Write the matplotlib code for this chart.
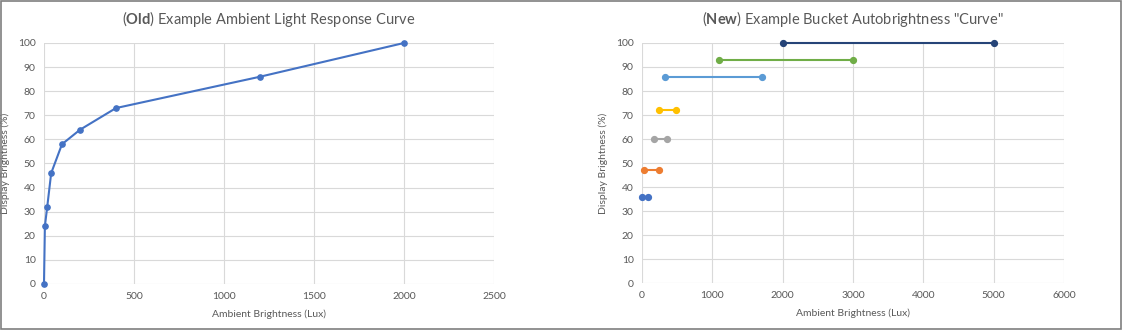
import numpy as np
import matplotlib
matplotlib.use("Agg")
import matplotlib.pyplot as plt
from matplotlib.patches import Rectangle

# old curve: ambient lux -> display brightness %
old_lux = [0, 5, 18, 40, 100, 200, 400, 1200, 2000]
old_pct = [0, 24, 32, 46, 58, 64, 73, 86, 100]

# new buckets: (lux start, lux end, brightness %)
bucket_start = [0, 30, 170, 240, 330, 1100, 2000]
bucket_end = [80, 240, 350, 490, 1700, 3000, 5000]
bucket_pct = [36, 47, 60, 72, 86, 93, 100]
bucket_colors = ["#4472C4", "#ED7D31", "#A5A5A5", "#FFC000", "#5B9BD5", "#70AD47", "#264478"]

plt.rcParams['font.family'] = ['Lato', 'DejaVu Sans']
plt.rcParams['mathtext.fontset'] = 'custom'
plt.rcParams['mathtext.bf'] = 'Lato:bold'
plt.rcParams['mathtext.rm'] = 'Lato'

txt = "#595959"
grid_c = "#D9D9D9"

fig = plt.figure(figsize=(11.22, 3.30), dpi=100)
ax1 = fig.add_axes([0.0392, 0.1394, 0.401, 0.7303])
ax2 = fig.add_axes([0.5722, 0.1424, 0.3761, 0.7273])


def style(ax, xmax, xstep):
    ax.set_xlim(0, xmax)
    ax.set_ylim(0, 100)
    ax.set_xticks(np.arange(0, xmax + 1, xstep))
    ax.set_yticks(np.arange(0, 101, 10))
    ax.grid(True, color=grid_c, linewidth=0.8)
    ax.set_axisbelow(True)
    for s in ax.spines.values():
        s.set_visible(False)
    ax.tick_params(length=0, labelsize=7.5, colors=txt, pad=6)
    ax.set_xlabel("Ambient Brightness (Lux)", fontsize=7.5, color=txt, labelpad=6)
    ax.set_ylabel("Display Brightness (%)", fontsize=7.5, color=txt, labelpad=6)


# left chart
ax1.plot(old_lux, old_pct, color="#4472C4", linewidth=1.5, marker="o", markersize=3.8, clip_on=False)
style(ax1, 2500, 500)
ax1.set_title(r"($\bf{Old}$) Example Ambient Light Response Curve", fontsize=10.5, color=txt, pad=14)

# right chart
for x0, x1, y, c in zip(bucket_start, bucket_end, bucket_pct, bucket_colors):
    ax2.plot([x0, x1], [y, y], color=c, linewidth=1.5, marker="o", markersize=4.2, clip_on=False)
style(ax2, 6000, 1000)
ax2.set_title(r'($\bf{New}$) Example Bucket Autobrightness "Curve"', fontsize=10.5, color=txt, pad=14)

# frame around the image
fig.patches.append(Rectangle((0.001, 0.003), 0.998, 0.994, transform=fig.transFigure,
                             fill=False, edgecolor="#7F7F7F", linewidth=1.2))

fig.savefig("out.png", dpi=100)
